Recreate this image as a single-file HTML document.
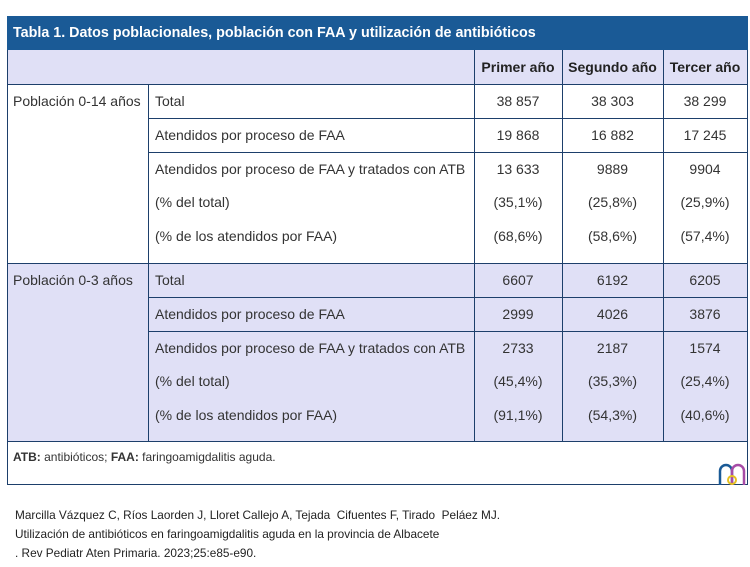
<!DOCTYPE html>
<html><head><meta charset="utf-8"><style>
body{margin:0;width:750px;height:567px;background:#fff;position:relative;overflow:hidden;font-family:"Liberation Sans",sans-serif;color:#333}
.a{position:absolute;box-sizing:border-box}
.t{position:absolute;font-size:14px;white-space:nowrap;line-height:16px}
.h{position:absolute;background:#1d3f6b}
.c{text-align:center}
</style></head><body>
<div class="a" style="left:7px;top:16px;width:741px;height:34px;background:#1a5a96"></div>
<div class="t" style="left:13px;top:25px;color:#fff;font-weight:bold;font-size:14.3px">Tabla 1. Datos poblacionales, población con FAA y utilización de antibióticos</div>
<div class="a" style="left:7px;top:50px;width:741px;height:34px;background:#e0e0f6"></div>
<div class="a" style="left:7px;top:263px;width:741px;height:178px;background:#e0e0f6"></div>
<div class="h" style="left:7px;top:50px;width:1px;height:434px"></div>
<div class="h" style="left:747px;top:50px;width:1px;height:434px"></div>
<div class="h" style="left:7px;top:484px;width:741px;height:1px"></div>
<div class="h" style="left:7px;top:84px;width:741px;height:1px"></div>
<div class="h" style="left:7px;top:263px;width:741px;height:1px"></div>
<div class="h" style="left:7px;top:441px;width:741px;height:1px"></div>
<div class="h" style="left:148px;top:118px;width:600px;height:1px"></div>
<div class="h" style="left:148px;top:152px;width:600px;height:1px"></div>
<div class="h" style="left:148px;top:297px;width:600px;height:1px"></div>
<div class="h" style="left:148px;top:331px;width:600px;height:1px"></div>
<div class="h" style="left:148px;top:84px;width:1px;height:357px"></div>
<div class="h" style="left:474px;top:50px;width:1px;height:391px"></div>
<div class="h" style="left:562px;top:50px;width:1px;height:391px"></div>
<div class="h" style="left:663px;top:50px;width:1px;height:391px"></div>
<div class="t c" style="left:474px;width:88px;top:59px;font-weight:bold;color:#222">Primer año</div>
<div class="t c" style="left:562px;width:101px;top:59px;font-weight:bold;color:#222">Segundo año</div>
<div class="t c" style="left:663px;width:84px;top:59px;font-weight:bold;color:#222">Tercer año</div>
<div class="t" style="left:13px;top:93px">Población 0-14 años</div>
<div class="t" style="left:13px;top:272px">Población 0-3 años</div>
<div id="rows"></div>
<div class="t" style="left:13px;top:449px;font-size:12px"><b>ATB:</b> antibióticos; <b>FAA:</b> faringoamigdalitis aguda.</div>
<svg class="a" style="left:718px;top:461px" width="28" height="24" viewBox="0 0 28 24">
<path d="M2 24 V10 a6 6 0 0 1 12 0 V24" fill="none" stroke="#1a5a96" stroke-width="2.5"/>
<path d="M14 24 V10 a6 6 0 0 1 12 0 V24" fill="none" stroke="#a64ca6" stroke-width="2.5"/>
<circle cx="14" cy="19" r="4" fill="none" stroke="#e5c020" stroke-width="2"/>
</svg>
<div class="t" style="left:15px;top:506px;font-size:11.8px;line-height:19px;color:#222">Marcilla Vázquez C, Ríos Laorden J, Lloret Callejo A, Tejada&nbsp; Cifuentes F, Tirado&nbsp; Peláez MJ.<br>Utilización de antibióticos en faringoamigdalitis aguda en la provincia de Albacete<br>. Rev Pediatr Aten Primaria. 2023;25:e85-e90.</div>
<script>
const rowLabels=["Total","Atendidos por proceso de FAA","Atendidos por proceso de FAA y tratados con ATB","(% del total)","(% de los atendidos por FAA)"];
const g1=[["38 857","38 303","38 299"],["19 868","16 882","17 245"],["13 633","9889","9904"],["(35,1%)","(25,8%)","(25,9%)"],["(68,6%)","(58,6%)","(57,4%)"]];
const g2=[["6607","6192","6205"],["2999","4026","3876"],["2733","2187","1574"],["(45,4%)","(35,3%)","(25,4%)"],["(91,1%)","(54,3%)","(40,6%)"]];
const rowY=[93,127,161,194,228];
const cols=[[474,88],[562,101],[663,84]];
const root=document.getElementById('rows');
[[g1,0],[g2,179]].forEach(([g,off],gi)=>{
 rowLabels.forEach((lab,i)=>{
  const d=document.createElement('div');d.className='t';d.style.left='155px';d.style.top=(rowY[i]+off)+'px';d.textContent=lab;
  
  
  root.appendChild(d);
  g[i].forEach((v,j)=>{
   const e=document.createElement('div');e.className='t c';e.style.left=cols[j][0]+'px';e.style.width=cols[j][1]+'px';e.style.top=(rowY[i]+off)+'px';e.textContent=v;
   
   
   root.appendChild(e);
  });
 });
});
</script>
</body></html>
